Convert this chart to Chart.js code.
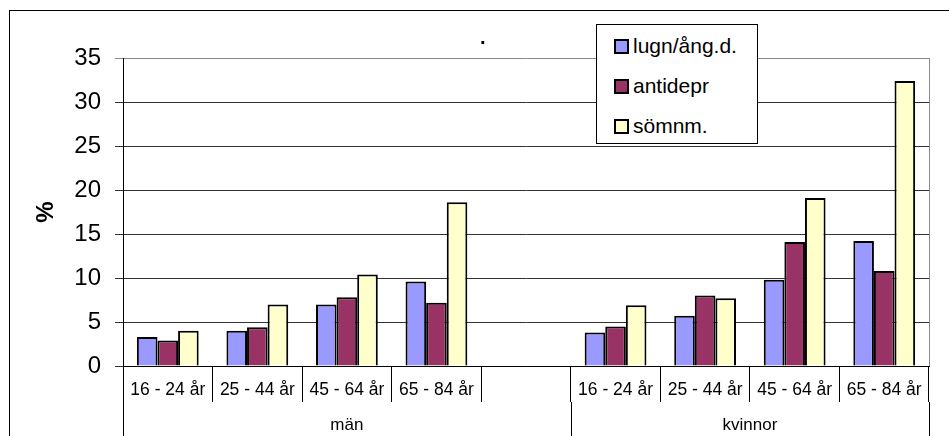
<!DOCTYPE html>
<html>
<head>
<meta charset="utf-8">
<script src="https://cdn.jsdelivr.net/npm/chart.js"></script>
<style>
  body { margin: 0; background: #fff; font-family: "Liberation Sans", Arial, sans-serif; }
  #wrap { position: relative; width: 949px; height: 436px; overflow: hidden; }
  #frame { position: absolute; left: 9px; top: 10px; width: 960px; height: 440px;
           border-top: 1px solid #000; border-left: 1px solid #000; }
  #chart { position: absolute; left: 0; top: 0; }
  #title { position: absolute; left: 480px; top: 26px; font-size: 20px; font-weight: bold; }
  #legend { position: absolute; left: 596px; top: 24px; width: 160px; height: 118px;
            border: 1px solid #000; background: #fff; }
  .item { position: absolute; left: 17px; height: 24px; line-height: 24px; font-size: 21px; }
  .box { display: inline-block; width: 11px; height: 11px; border: 2px solid #000;
         vertical-align: -1px; margin-right: 4px; }
</style>
</head>
<body>
<div id="wrap">
  <div id="frame"></div>
  <canvas id="chart" width="949" height="436"></canvas>
  <div id="title">.</div>
  <div id="legend"></div>
</div>
<script>
var categories = ["16 - 24 år", "25 - 44 år", "45 - 64 år", "65 - 84 år", "",
                  "16 - 24 år", "25 - 44 år", "45 - 64 år", "65 - 84 år"];
var groups = ["män", "kvinnor"];
var groupSizes = [5, 4];

var seriesNames = ["lugn/ång.d.", "antidepr", "sömnm."];
var seriesColors = ["#9999FF", "#993366", "#FFFFCC"];
var lugn = [3.3, 4.0, 7.0, 9.6, null, 3.8, 5.7, 9.8, 14.2];
var antidepr = [2.9, 4.4, 7.8, 7.2, null, 4.5, 8.0, 14.1, 10.8];
var somn = [4.0, 7.0, 10.4, 18.6, null, 6.9, 7.7, 19.1, 32.4];
var seriesValues = [lugn, antidepr, somn];

var font = "'Liberation Sans', Arial, sans-serif";

// legend
var legend = document.getElementById("legend");
seriesNames.forEach(function(name, i) {
    var row = document.createElement("div");
    row.className = "item";
    row.style.top = (9 + i * 40) + "px";
    row.innerHTML = '<span class="box" style="background:' + seriesColors[i] + '"></span>' + name;
    legend.appendChild(row);
});

var groupAxis = {
    id: "groupAxis",
    afterDraw: function(chart) {
        var ctx = chart.ctx;
        var area = chart.chartArea;
        var x = chart.scales.x;
        var step = x.getPixelForValue(1) - x.getPixelForValue(0);

        // grey plot border on the right
        ctx.save();
        ctx.strokeStyle = "#888";
        ctx.lineWidth = 1;
        ctx.beginPath();
        ctx.moveTo(Math.round(area.right) + 0.5, area.top);
        ctx.lineTo(Math.round(area.right) + 0.5, area.bottom);
        ctx.stroke();

        // group separators and labels
        ctx.strokeStyle = "#000";
        ctx.fillStyle = "#000";
        ctx.font = "17px " + font;
        ctx.textAlign = "center";
        ctx.textBaseline = "middle";
        var start = 0;
        var y0 = area.bottom + 36;
        var y1 = chart.height;
        for (var g = 0; g < groups.length; g++) {
            var left = x.getPixelForValue(start) - step / 2;
            var right = x.getPixelForValue(start + groupSizes[g] - 1) + step / 2;
            ctx.beginPath();
            ctx.moveTo(Math.round(left) + 0.5, y0);
            ctx.lineTo(Math.round(left) + 0.5, y1);
            ctx.moveTo(Math.round(right) + 0.5, y0);
            ctx.lineTo(Math.round(right) + 0.5, y1);
            ctx.stroke();
            ctx.fillText(groups[g], (left + right) / 2, area.bottom + 59);
            start += groupSizes[g];
        }
        ctx.restore();
    }
};

var ctx = document.getElementById("chart").getContext("2d");

var datasets = seriesNames.map(function(name, i) {
    return {
        label: name,
        data: seriesValues[i],
        backgroundColor: seriesColors[i],
        borderColor: "#000",
        borderWidth: 2,
        barPercentage: 1,
        categoryPercentage: 0.69
    };
});

var chart = new Chart(ctx, {
    type: "bar",
    data: { labels: categories, datasets: datasets },
    options: {
        responsive: false,
        animation: false,
        layout: { padding: { left: 0, top: 58, right: 20, bottom: 0 } },
        plugins: {
            legend: { display: false },
            tooltip: { enabled: false }
        },
        scales: {
            x: {
                grid: {
                    display: true,
                    offset: true,
                    drawOnChartArea: false,
                    drawTicks: true,
                    tickLength: 36,
                    color: "#000",
                    lineWidth: 1
                },
                border: { display: true, color: "#000", width: 1 },
                ticks: {
                    autoSkip: false,
                    maxRotation: 0,
                    padding: -22,
                    color: "#000",
                    font: { family: font, size: 17.5 }
                },
                afterFit: function(scale) { scale.height = 70; }
            },
            y: {
                min: 0,
                max: 35,
                ticks: {
                    stepSize: 5,
                    padding: 14,
                    color: "#000",
                    font: { family: font, size: 24 }
                },
                grid: {
                    tickLength: 8,
                    color: function(c) { return c.tick && c.tick.value === 35 ? "#888" : "#333"; },
                    lineWidth: 1
                },
                border: { display: true, color: "#000", width: 1 },
                title: {
                    display: true,
                    text: "%",
                    color: "#000",
                    padding: { top: 32, bottom: 0 },
                    font: { family: font, size: 24, weight: "bold" }
                },
                afterFit: function(scale) { scale.width = 123; }
            }
        }
    },
    plugins: [groupAxis]
});
</script>
</body>
</html>
